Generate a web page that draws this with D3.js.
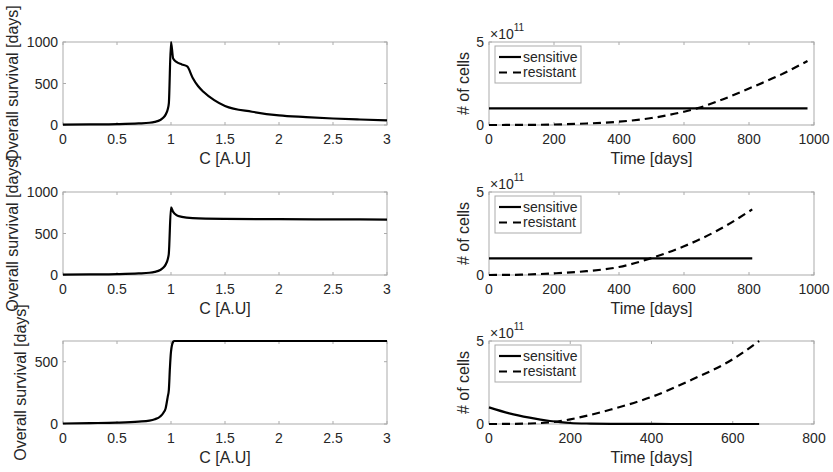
<!DOCTYPE html>
<html>
<head>
<meta charset="utf-8">
<script src="https://cdn.jsdelivr.net/npm/d3@7"></script>
<style>
    body { margin: 0; background: #fff; }
    svg text { font-family: "Liberation Sans", Arial, Helvetica, sans-serif; fill: #262626; }
</style>
</head>
<body>
<svg id="fig" width="833" height="472"></svg>
<script>
'use strict';

// ---- left column: overall survival vs. C ----
var cTop  = [0, 0.25, 0.5, 0.7, 0.8, 0.85, 0.9, 0.93, 0.95, 0.97, 0.98, 1.0, 1.02, 1.05, 1.1, 1.15, 1.2, 1.25, 1.3, 1.4, 1.5, 1.75, 2.0, 2.25, 2.5, 2.75, 3.0];
var osTop = [4, 7, 11, 19, 27, 38, 60, 90, 125, 190, 260, 1000, 800, 760, 730, 705, 570, 470, 400, 300, 230, 160, 115, 95, 78, 66, 56];

var cMid  = [0, 0.25, 0.5, 0.7, 0.8, 0.85, 0.9, 0.93, 0.95, 0.97, 0.98, 1.0, 1.02, 1.05, 1.1, 1.2, 1.5, 2.0, 2.5, 3.0];
var osMid = [4, 7, 11, 19, 27, 38, 60, 90, 125, 190, 260, 815, 760, 722, 700, 685, 676, 672, 670, 668];

var cBot  = [0, 0.25, 0.5, 0.7, 0.8, 0.85, 0.9, 0.93, 0.95, 0.97, 0.98, 0.99, 1.0, 1.02, 1.03, 1.5, 2.0, 2.5, 3.0];
var osBot = [4, 7, 11, 19, 27, 38, 60, 90, 125, 220, 273, 450, 580, 660, 666, 666, 666, 666, 666];

// ---- right column: cell counts (x 1e11) vs. time ----
var tTop    = [0, 100, 200, 300, 400, 500, 600, 640, 700, 800, 900, 980];
var sensTop = [1, 1, 1, 1, 1, 1, 1, 1, 1, 1, 1, 1];
var resTop  = [0, 0.005, 0.03, 0.09, 0.2, 0.42, 0.8, 1.0, 1.4, 2.2, 3.05, 3.85];

var tMid    = [0, 100, 200, 300, 400, 450, 500, 600, 700, 810];
var sensMid = [1, 1, 1, 1, 1, 1, 1, 1, 1, 1];
var resMid  = [0, 0.02, 0.1, 0.23, 0.48, 0.72, 1.02, 1.73, 2.65, 3.95];

var tBot    = [0, 50, 100, 150, 175, 200, 250, 300, 400, 500, 600, 665];
var sensBot = [1.0, 0.64, 0.38, 0.18, 0.11, 0.06, 0.025, 0.01, 0.002, 0, 0, 0];
var resBot  = [0, 0.005, 0.03, 0.1, 0.17, 0.28, 0.55, 0.87, 1.63, 2.68, 3.9, 5.0];

var cTicks      = [0, 0.5, 1, 1.5, 2, 2.5, 3];
var osTicks     = [0, 500, 1000];
var tTicks1000  = [0, 200, 400, 600, 800, 1000];
var tTicks800   = [0, 200, 400, 600, 800];
var cellTicks   = [0, 5];
var legendNames = ["sensitive", "resistant"];

var svg = d3.select("#fig");
var boxColor = "#ababab";

function panel(cfg) {
    var w = cfg.x1 - cfg.x0, h = cfg.y1 - cfg.y0;
    var g = svg.append("g").attr("transform", "translate(" + cfg.x0 + "," + cfg.y0 + ")");
    var x = d3.scaleLinear().domain(cfg.xDomain).range([0, w]);
    var y = d3.scaleLinear().domain(cfg.yDomain).range([h, 0]);

    // box
    g.append("rect").attr("width", w).attr("height", h)
        .attr("fill", "none").attr("stroke", boxColor).attr("stroke-width", 1);

    // inward ticks on all four sides
    cfg.xTicks.forEach(function(t) {
        var px = x(t);
        g.append("line").attr("x1", px).attr("x2", px).attr("y1", h).attr("y2", h - 3).attr("stroke", boxColor);
        g.append("line").attr("x1", px).attr("x2", px).attr("y1", 0).attr("y2", 3).attr("stroke", boxColor);
    });
    cfg.yTicks.forEach(function(t) {
        var py = y(t);
        g.append("line").attr("x1", 0).attr("x2", 3).attr("y1", py).attr("y2", py).attr("stroke", boxColor);
        g.append("line").attr("x1", w).attr("x2", w - 3).attr("y1", py).attr("y2", py).attr("stroke", boxColor);
    });

    // tick labels
    g.selectAll(".xt").data(cfg.xTicks).enter().append("text")
        .attr("x", function(d){ return x(d); }).attr("y", h + 18.5)
        .attr("text-anchor", "middle").style("font-size", "14px")
        .text(function(d){ return d; });
    g.selectAll(".yt").data(cfg.yTicks).enter().append("text")
        .attr("x", -5).attr("y", function(d){ return y(d); }).attr("dy", "0.36em")
        .attr("text-anchor", "end").style("font-size", "14px")
        .text(function(d){ return d; });

    // axis labels
    g.append("text").attr("x", w / 2).attr("y", h + 39)
        .attr("text-anchor", "middle").style("font-size", "16px").text(cfg.xLabel);
    g.append("text")
        .attr("transform", "translate(" + (cfg.yLabelX - cfg.x0) + "," + (h / 2) + ") rotate(-90)")
        .attr("text-anchor", "middle").style("font-size", "16px").text(cfg.yLabel);

    // series
    cfg.series.forEach(function(s) {
        var line = d3.line()
            .x(function(d, i){ return x(s.x[i]); })
            .y(function(d){ return y(d); })
            .curve(d3.curveMonotoneX);
        g.append("path").attr("d", line(s.y))
            .attr("fill", "none").attr("stroke", "#000").attr("stroke-width", 2.2)
            .attr("stroke-dasharray", s.dash ? "8,5" : null);
    });

    if (cfg.exponent) {
        var ex = g.append("text").attr("x", 1).attr("y", -3).style("font-size", "14px");
        ex.append("tspan").text("\u00d710");
        ex.append("tspan").attr("dy", -8).style("font-size", "10px").text(cfg.exponent);
    }

    if (cfg.legend) {
        var lg = g.append("g").attr("transform", "translate(6,4)");
        lg.append("rect").attr("width", 86).attr("height", 37)
            .attr("fill", "#fff").attr("stroke", boxColor);
        cfg.legend.forEach(function(name, i) {
            var ly = 11 + i * 15.5;
            lg.append("line").attr("x1", 4).attr("x2", 26).attr("y1", ly).attr("y2", ly)
                .attr("stroke", "#000").attr("stroke-width", 2.2)
                .attr("stroke-dasharray", i === 1 ? "8,6" : null);
            lg.append("text").attr("x", 28).attr("y", ly).attr("dy", "0.35em")
                .style("font-size", "14px").text(name);
        });
    }
}

var rows = [[42, 125], [192, 275], [341, 424]];
var leftX = [63, 387], rightX = [489, 814];

var leftData = [
    {x: cTop, y: osTop, yDomain: [0, 1000], yTicks: osTicks, labX: 18},
    {x: cMid, y: osMid, yDomain: [0, 1000], yTicks: osTicks, labX: 18},
    {x: cBot, y: osBot, yDomain: [0, 666],  yTicks: [0, 500], labX: 26}
];
var rightData = [
    {t: tTop, s: sensTop, r: resTop, xDomain: [0, 1000], xTicks: tTicks1000},
    {t: tMid, s: sensMid, r: resMid, xDomain: [0, 1000], xTicks: tTicks1000},
    {t: tBot, s: sensBot, r: resBot, xDomain: [0, 800],  xTicks: tTicks800}
];

rows.forEach(function(r, i) {
    var L = leftData[i], R = rightData[i];
    panel({
        x0: leftX[0], x1: leftX[1], y0: r[0], y1: r[1],
        xDomain: [0, 3], yDomain: L.yDomain, xTicks: cTicks, yTicks: L.yTicks,
        xLabel: "C [A.U]", yLabel: "Overall survival [days]", yLabelX: L.labX,
        series: [{x: L.x, y: L.y}]
    });
    panel({
        x0: rightX[0], x1: rightX[1], y0: r[0], y1: r[1],
        xDomain: R.xDomain, yDomain: [0, 5], xTicks: R.xTicks, yTicks: cellTicks,
        xLabel: "Time [days]", yLabel: "# of cells", yLabelX: 469,
        exponent: "11", legend: legendNames,
        series: [{x: R.t, y: R.s}, {x: R.t, y: R.r, dash: true}]
    });
});
</script>
</body>
</html>
